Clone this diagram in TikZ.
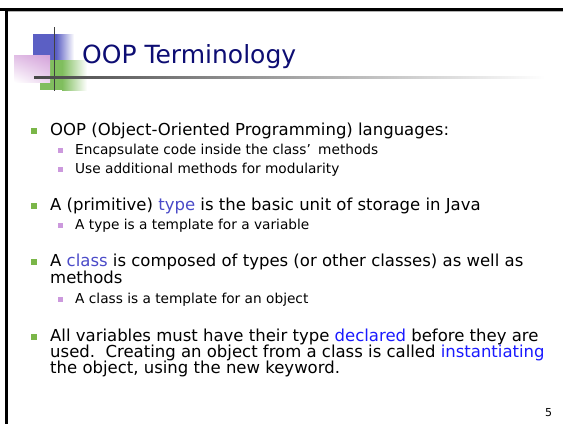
\documentclass[tikz,border=0pt]{standalone}
\usepackage{fontspec}
\setmainfont{DejaVu Sans}
\usepackage{tikz}
\usetikzlibrary{shadings}
\definecolor{titleblue}{HTML}{0D0D73}
\definecolor{keyblue}{HTML}{4B4BC8}
\definecolor{brightblue}{HTML}{1A1AFF}
\definecolor{bulgreen}{HTML}{7AB648}
\definecolor{bulpink}{HTML}{CC99DD}
\definecolor{sqblue}{HTML}{5B5FC4}
\definecolor{sqgreen}{HTML}{80BE5E}
\definecolor{sqpink}{HTML}{D4A2DA}

\begin{document}
\begin{tikzpicture}[x=1pt,y=-1pt,
  lvlone/.style={anchor=base west,inner sep=0pt,font=\fontsize{16.5}{16}\selectfont},
  lvltwo/.style={anchor=base west,inner sep=0pt,font=\fontsize{13.7}{14}\selectfont},
  bulone/.style={fill=bulgreen,minimum size=6pt,inner sep=0pt},
  bultwo/.style={fill=bulpink,minimum size=5pt,inner sep=0pt}]
\useasboundingbox (0,0) rectangle (563,424);
\fill[white] (0,0) rectangle (563,424);
% slide frame (top and left edge)
\fill[black!30] (7,10.5) rectangle (563,12);
\fill (0,8) rectangle (563,10.5);
\fill (5,8) rectangle (7.5,424);

% title squares
\fill[sqblue] (33,34) rectangle (56,60);
\shade[left color=sqblue,right color=white] (56,34) rectangle (74,60);
\fill[sqgreen] (40,60) rectangle (62,90);
\shade[left color=sqgreen,right color=white] (62,60) rectangle (87,90);
\shade[upper right=sqpink,upper left=sqpink!70,lower right=sqpink!45,lower left=white] (14,55) rectangle (50,82);
\draw[line width=1.5pt,black!75] (54.5,27) -- (54.5,91);
\shade[left color=black!72,right color=white] (34,76.5) rectangle (545,78.5);

\node[anchor=base west,inner sep=0pt,text=titleblue,font=\fontsize{25}{25}\selectfont] (title) at (82,63){OOP Terminology};

% bullet 1
\node[bulone] (b1) at (34,131){};
\node[lvlone] (oop) at (50,135){OOP (Object-Oriented Programming) languages:};
\node[bultwo] (b1a) at (60.5,150.5){};
\node[lvltwo] (encap) at (75,154){Encapsulate code inside the class’\hspace{3pt} methods};
\node[bultwo] (b1b) at (60.5,169.5){};
\node[lvltwo] (modul) at (75,173){Use additional methods for modularity};

% bullet 2
\node[bulone] (b2) at (34,206){};
\node[lvlone] (prim) at (50,210){A (primitive) \textcolor{keyblue}{type} is the basic unit of storage in Java};
\node[bultwo] (b2a) at (60.5,225.5){};
\node[lvltwo] (tmplvar) at (75,229){A type is a template for a variable};

% bullet 3
\node[bulone] (b3) at (34,262){};
\node[lvlone] (compo) at (50,266){A \textcolor{keyblue}{class} is composed of types (or other classes) as well as};
\node[lvlone] (meth) at (50,283){methods};
\node[bultwo] (b3a) at (60.5,299.5){};
\node[lvltwo] (tmplobj) at (75,303){A class is a template for an object};

% bullet 4
\node[bulone] (b4) at (34,337){};
\node[lvlone] (vars) at (50,341){All variables must have their type \textcolor{brightblue}{declared} before they are};
\node[lvlone] (used) at (50,357){used.\ \ Creating an object from a class is called \textcolor{brightblue}{instantiating}};
\node[lvlone] (newkw) at (50,373){the object, using the new keyword.};

\node[anchor=base west,inner sep=0pt,font=\fontsize{11}{11}\selectfont] (pgno) at (545,416){5};
\end{tikzpicture}
\end{document}
